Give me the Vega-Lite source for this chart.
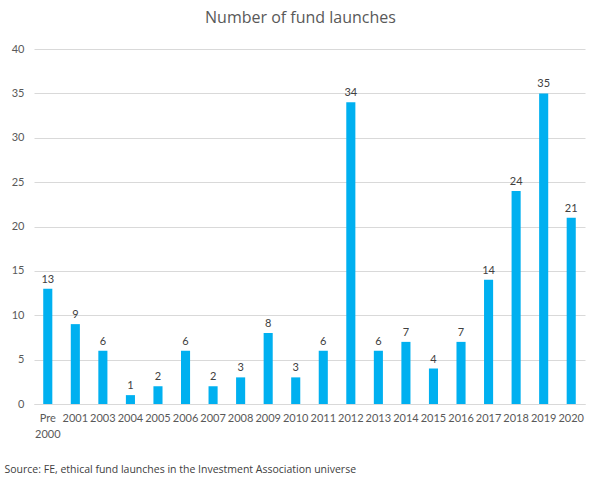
{
  "$schema": "https://vega.github.io/schema/vega-lite/v6.json",
  "autosize": "none",
  "width": 551,
  "height": 355,
  "padding": {"left": 34, "top": 49, "right": 17, "bottom": 75},
  "background": "white",
  "config": {
    "view": {"stroke": null},
    "font": "Lato"
  },
  "title": {
    "text": "Number of fund launches",
    "fontSize": 16,
    "fontWeight": "normal",
    "color": "#595959",
    "font": "Open Sans",
    "anchor": "middle",
    "dx": -9,
    "offset": 17
  },
  "data": {
    "values": [
      {"year": "Pre 2000", "launches": 13},
      {"year": "2001", "launches": 9},
      {"year": "2003", "launches": 6},
      {"year": "2004", "launches": 1},
      {"year": "2005", "launches": 2},
      {"year": "2006", "launches": 6},
      {"year": "2007", "launches": 2},
      {"year": "2008", "launches": 3},
      {"year": "2009", "launches": 8},
      {"year": "2010", "launches": 3},
      {"year": "2011", "launches": 6},
      {"year": "2012", "launches": 34},
      {"year": "2013", "launches": 6},
      {"year": "2014", "launches": 7},
      {"year": "2015", "launches": 4},
      {"year": "2016", "launches": 7},
      {"year": "2017", "launches": 14},
      {"year": "2018", "launches": 24},
      {"year": "2019", "launches": 35},
      {"year": "2020", "launches": 21}
    ]
  },
  "encoding": {
    "x": {
      "field": "year",
      "type": "nominal",
      "sort": null,
      "scale": {"paddingInner": 0.67, "paddingOuter": 0.335},
      "axis": {
        "title": "Source: FE, ethical fund launches in the Investment Association universe",
        "titleFont": "Open Sans",
        "titleFontSize": 10.5,
        "titleFontWeight": "normal",
        "titleColor": "#404040",
        "titleAnchor": "start",
        "titleAlign": "left",
        "titleBaseline": "middle",
        "titleX": -30,
        "titleY": 65,
        "labelAngle": 0,
        "labelFontSize": 11,
        "labelColor": "#595959",
        "labelPadding": 8,
        "labelLineHeight": 16,
        "labelExpr": "datum.value == 'Pre 2000' ? ['Pre', '2000'] : datum.value",
        "ticks": false,
        "domainColor": "#d9d9d9",
        "labelOverlap": false
      }
    },
    "y": {
      "field": "launches",
      "type": "quantitative",
      "scale": {"domain": [0, 40], "nice": false},
      "axis": {
        "title": null,
        "values": [0, 5, 10, 15, 20, 25, 30, 35, 40],
        "labelFontSize": 11,
        "labelColor": "#595959",
        "labelPadding": 10,
        "ticks": false,
        "domain": false,
        "gridColor": "#d9d9d9"
      }
    }
  },
  "layer": [
    {"mark": {"type": "bar", "color": "#00B0F0"}},
    {
      "mark": {"type": "text", "baseline": "bottom", "dy": -4, "fontSize": 11, "color": "#404040"},
      "encoding": {"text": {"field": "launches", "type": "quantitative"}}
    }
  ]
}
